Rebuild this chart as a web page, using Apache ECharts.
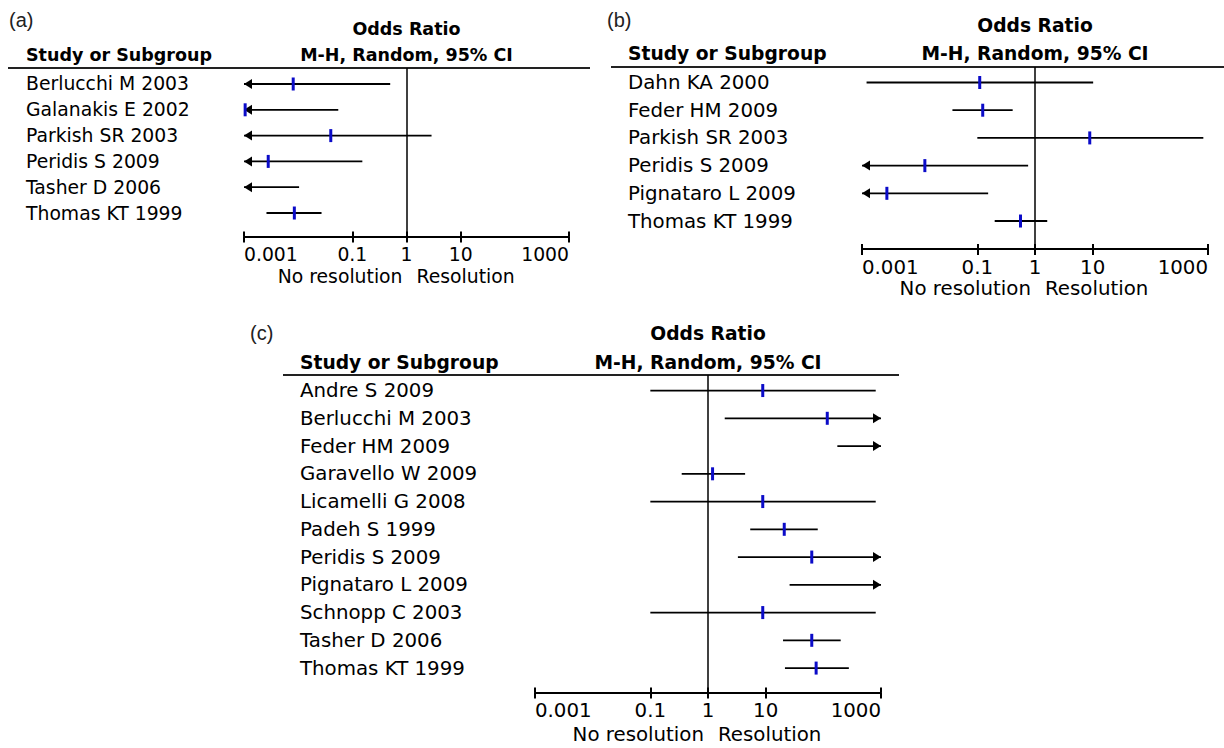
<!DOCTYPE html>
<html>
<head>
<meta charset="utf-8">
<title>Odds ratio forest plots</title>
<script src="https://cdn.jsdelivr.net/npm/echarts@6.0.0/dist/echarts.min.js"></script>
<style>
html, body { margin: 0; padding: 0; background: #fff; }
#chart { width: 1224px; height: 748px; }
</style>
</head>
<body>
<div id="chart"></div>
<script>
// axis ticks (odds ratio, log scale)
var tickOR = [0.001, 0.1, 1, 10, 1000];
var tickLabels = ['0.001', '0.1', '1', '10', '1000'];
var axisMinOR = 0.001, axisMaxOR = 1000, nullOR = 1;

// (a)
var studiesA = ['Berlucchi M 2003', 'Galanakis E 2002', 'Parkish SR 2003', 'Peridis S 2009', 'Tasher D 2006', 'Thomas KT 1999'];
var orA    = [0.0081, 0.00105, 0.040, 0.0028, 0.0003, 0.0085];
var lowerA = [0.00002, 0.000003, 0.0001, 0.00001, 0.000001, 0.0026];
var upperA = [0.50, 0.055, 2.9, 0.153, 0.0104, 0.027];

// (b)
var studiesB = ['Dahn KA 2000', 'Feder HM 2009', 'Parkish SR 2003', 'Peridis S 2009', 'Pignataro L 2009', 'Thomas KT 1999'];
var orB    = [0.110, 0.124, 8.9, 0.0123, 0.0027, 0.56];
var lowerB = [0.0012, 0.037, 0.10, 0.0002, 0.00005, 0.20];
var upperB = [10.2, 0.41, 830, 0.76, 0.154, 1.63];

// (c)
var studiesC = ['Andre S 2009', 'Berlucchi M 2003', 'Feder HM 2009', 'Garavello W 2009', 'Licamelli G 2008', 'Padeh S 1999',
                'Peridis S 2009', 'Pignataro L 2009', 'Schnopp C 2003', 'Tasher D 2006', 'Thomas KT 1999'];
var orC    = [8.9, 117, 3000, 1.2, 8.9, 21, 63, 1500, 8.9, 63, 75];
var lowerC = [0.10, 1.95, 175, 0.35, 0.10, 5.4, 3.3, 26, 0.10, 20, 21.6];
var upperC = [810, 7000, 50000, 4.4, 810, 80, 2500, 90000, 810, 200, 277];

function lg(v) { return Math.round(Math.log10(v) * 1e9) / 1e9; }

var sets = [
    {tag: '(a)', names: studiesA, or: orA, lo: lowerA, hi: upperA},
    {tag: '(b)', names: studiesB, or: orB, lo: lowerB, hi: upperB},
    {tag: '(c)', names: studiesC, or: orC, lo: lowerC, hi: upperC}
];

// page layout of each panel (pixels)
var layouts = [
    {left: 244, top: 68, width: 325, height: 168.5, yMin: -0.62, yMax: 5.91, nameX: 26, fs: 18.8, bfs: 17.5,
     tagX: 9, tagY: 20, oddsY: 29, mhY: 55, ruleX1: 8, ruleX2: 590, noResY: 276},
    {left: 862, top: 67, width: 346, height: 182, yMin: -0.56, yMax: 6.01, nameX: 628, fs: 19.8, bfs: 18.7,
     tagX: 607, tagY: 20, oddsY: 25, mhY: 53, ruleX1: 611, ruleX2: 1224, noResY: 288},
    {left: 535, top: 375, width: 346, height: 317.5, yMin: -0.56, yMax: 10.88, nameX: 300, fs: 19.8, bfs: 18.7,
     tagX: 250, tagY: 333, oddsY: 333, mhY: 362, ruleX1: 283, ruleX2: 899, noResY: 734}
];

var fontFam = '"DejaVu Sans", Verdana, sans-serif';
var blue = '#0b0bc8';

function fmtTick(v) {
    for (var i = 0; i < tickOR.length; i++) {
        if (Math.abs(lg(tickOR[i]) - v) < 1e-6) return tickLabels[i];
    }
    return '';
}

// one study row: CI line, arrows where it runs off the axis, blue point estimate
function renderStudy(params, api) {
    var cs = params.coordSys;
    var left = cs.x, right = cs.x + cs.width;
    var row = api.value(3);
    var pLo = api.coord([api.value(0), row]);
    var pPt = api.coord([api.value(1), row]);
    var pHi = api.coord([api.value(2), row]);
    var y = pPt[1];
    var x1 = Math.max(pLo[0], left), x2 = Math.min(pHi[0], right);
    var ah = 8, aw = 5;
    var kids = [{type: 'line', shape: {x1: x1, y1: y, x2: x2, y2: y}, style: {stroke: '#000', lineWidth: 1.8}}];
    if (pLo[0] < left) {
        kids.push({type: 'polygon', shape: {points: [[left, y], [left + ah, y - aw], [left + ah, y + aw]]}, style: {fill: '#000'}});
    }
    if (pHi[0] > right) {
        kids.push({type: 'polygon', shape: {points: [[right, y], [right - ah, y - aw], [right - ah, y + aw]]}, style: {fill: '#000'}});
    }
    if (pPt[0] >= left - 1 && pPt[0] <= right + 1) {
        kids.push({type: 'rect', shape: {x: pPt[0] - 1.5, y: y - 6.5, width: 3, height: 13}, style: {fill: blue}});
    }
    return {type: 'group', children: kids};
}

var chart = echarts.init(document.getElementById('chart'), null, {renderer: 'svg'});

var grids = [], xAxes = [], yAxes = [], series = [];
layouts.forEach(function (L, k) {
    var d = sets[k];
    var tickVals = tickOR.map(lg);
    grids.push({left: L.left, top: L.top, width: L.width, height: L.height, containLabel: false, outerBoundsMode: 'none'});
    xAxes.push({
        gridIndex: k, type: 'value', position: 'bottom',
        min: lg(axisMinOR), max: lg(axisMaxOR), interval: 1,
        axisLine: {show: true, onZero: false, lineStyle: {color: '#000', width: 2}},
        axisTick: {show: true, customValues: tickVals, length: 6, lineStyle: {color: '#000', width: 2}},
        axisLabel: {customValues: tickVals, formatter: fmtTick, color: '#000', fontFamily: fontFam, fontSize: L.fs,
                    margin: 8, alignMinLabel: 'left', alignMaxLabel: 'right'},
        splitLine: {show: false}
    });
    // same scale again, moved onto the bottom line, so the ticks also rise above it
    xAxes.push({
        gridIndex: k, type: 'value', position: 'top', offset: -L.height,
        min: lg(axisMinOR), max: lg(axisMaxOR), interval: 1,
        axisLine: {show: false, onZero: false},
        axisTick: {show: true, customValues: tickVals, length: 5, lineStyle: {color: '#000', width: 2}},
        axisLabel: {show: false},
        splitLine: {show: false}
    });
    yAxes.push({
        gridIndex: k, type: 'value', inverse: true, min: L.yMin, max: L.yMax,
        axisLine: {show: false, onZero: false}, axisTick: {show: false}, splitLine: {show: false},
        axisLabel: {
            customValues: d.names.map(function (n, i) { return i; }),
            formatter: function (v) { return d.names[v] || ''; },
            align: 'left', margin: L.left - L.nameX,
            color: '#000', fontFamily: fontFam, fontSize: L.fs
        }
    });
    series.push({
        type: 'custom',
        xAxisIndex: 2 * k, yAxisIndex: k,
        renderItem: renderStudy,
        encode: {x: [0, 1, 2], y: 3},
        data: d.names.map(function (n, i) { return [lg(d.lo[i]), lg(d.or[i]), lg(d.hi[i]), i]; }),
        clip: false,
        silent: true,
        markLine: {
            symbol: 'none', silent: true, label: {show: false},
            lineStyle: {color: '#000', width: 1.5, type: 'solid'},
            data: [{xAxis: lg(nullOR)}]
        }
    });
});

chart.setOption({
    animation: false,
    backgroundColor: '#fff',
    grid: grids,
    xAxis: xAxes,
    yAxis: yAxes,
    series: series
});

// headings and the "No resolution / Resolution" captions, placed at the OR = 1 line
function txt(x, y, s, size, weight, align, fam, color) {
    return {type: 'text', x: x, y: y, silent: true, style: {
        text: s, fontSize: size, fontWeight: weight, fontFamily: fam || fontFam,
        fill: color || '#000', align: align, verticalAlign: 'middle'}};
}
var graphics = [];
layouts.forEach(function (L, k) {
    var cx = chart.convertToPixel({xAxisIndex: 2 * k}, lg(nullOR));
    graphics.push(txt(L.tagX, L.tagY, sets[k].tag, 20, 'normal', 'left', '"Liberation Sans", Arial, sans-serif', '#222'));
    graphics.push(txt(cx, L.oddsY, 'Odds Ratio', L.bfs, 'bold', 'center'));
    graphics.push(txt(cx, L.mhY, 'M-H, Random, 95% CI', L.bfs, 'bold', 'center'));
    graphics.push(txt(L.nameX, L.mhY, 'Study or Subgroup', L.bfs, 'bold', 'left'));
    graphics.push({type: 'line', silent: true, shape: {x1: L.ruleX1, y1: L.top, x2: L.ruleX2, y2: L.top},
                   style: {stroke: '#222', lineWidth: 1.8}});
    graphics.push(txt(cx - 4, L.noResY, 'No resolution', L.fs, 'normal', 'right'));
    graphics.push(txt(cx + 10, L.noResY, 'Resolution', L.fs, 'normal', 'left'));
});
chart.setOption({graphic: graphics});
</script>
</body>
</html>
